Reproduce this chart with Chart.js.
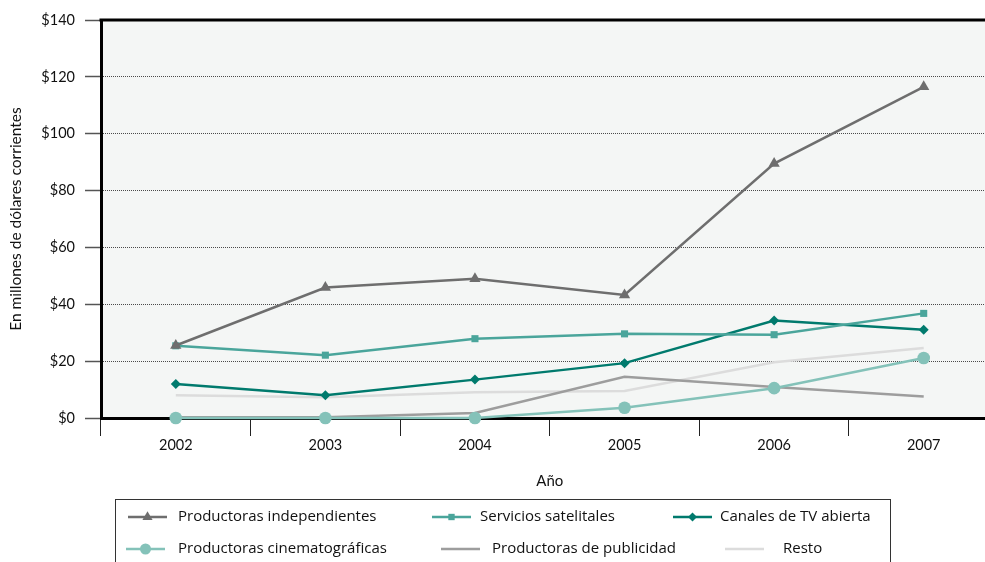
<!DOCTYPE html>
<html lang="es">
<head>
<meta charset="utf-8">
<title>Ingresos por tipo de empresa</title>
<script src="https://cdn.jsdelivr.net/npm/chart.js@4.4.1/dist/chart.umd.min.js"></script>
<style>
  html, body { margin: 0; padding: 0; background: #fff; overflow: hidden; }
  #wrap { width: 985px; height: 562px; overflow: hidden; }
  canvas { display: block; }
</style>
</head>
<body>
<div id="wrap"><canvas id="chart" width="1005" height="562"></canvas></div>
<script>
// Años y series (millones de dólares corrientes)
const years = ['2002', '2003', '2004', '2005', '2006', '2007'];
const independientes = [25.5, 45.9, 49.0, 43.3, 89.5, 116.5];
const satelitales = [25.4, 22.1, 27.9, 29.6, 29.3, 36.8];
const canalesTV = [12.0, 8.0, 13.5, 19.3, 34.3, 31.0];
const cinematograficas = [0, 0, 0, 3.6, 10.5, 21.1];
const publicidad = [0.3, 0.3, 1.8, 14.5, 10.9, 7.6];
const resto = [8.0, 7.3, 9.1, 9.5, 19.6, 24.6];

const yTicks = [0, 20, 40, 60, 80, 100, 120, 140];

const FONT = "'Lato', 'DejaVu Sans', sans-serif";
const LEGEND_FONT = "'Open Sans', 'Noto Sans', sans-serif";

function series(label, data, color, style, radius) {
  return {
    label,
    data,
    borderColor: color,
    backgroundColor: color,
    borderWidth: 2.5,
    tension: 0,
    clip: false,
    pointStyle: style || 'circle',
    pointRadius: radius || 0,
    pointHoverRadius: radius || 0,
    pointBorderWidth: 0,
    pointBackgroundColor: color,
  };
}

const datasets = [
  series('Productoras independientes', independientes, '#6e6e6e', 'triangle', 6.5),
  series('Servicios satelitales', satelitales, '#4aa59b', 'rect', 5),
  series('Canales de TV abierta', canalesTV, '#007a6d', 'rectRot', 5),
  series('Productoras cinematográficas', cinematograficas, '#84c2b9', 'circle', 6.3),
  series('Productoras de publicidad', publicidad, '#9d9d9d'),
  series('Resto', resto, '#dcdcdc'),
];

// Fondo del área de trazado y borde superior
const plotFrame = {
  id: 'plotFrame',
  beforeDatasetsDraw(chart) {
    const { ctx, chartArea: a } = chart;
    ctx.save();
    ctx.strokeStyle = '#000';
    ctx.lineWidth = 3;
    ctx.beginPath();
    ctx.moveTo(a.left - 1.5, a.top);
    ctx.lineTo(a.right, a.top);
    ctx.stroke();
    ctx.restore();
  },
  beforeDraw(chart) {
    const { ctx, chartArea: a } = chart;
    ctx.save();
    ctx.fillStyle = '#f4f6f5';
    ctx.fillRect(a.left, a.top, a.right - a.left, a.bottom - a.top);
    ctx.restore();
  },
};

// Leyenda en recuadro, dos filas de tres elementos
const boxLegend = {
  id: 'boxLegend',
  afterDraw(chart) {
    const { ctx } = chart;
    const slots = [
      [128, 178, 517], [432, 480, 517], [673, 720, 517],
      [126, 178, 549], [441, 492, 549], [725, 783, 549],
    ];
    ctx.save();
    ctx.strokeStyle = '#333';
    ctx.lineWidth = 1;
    ctx.strokeRect(115.5, 499.5, 775, 80);
    ctx.font = '15px ' + LEGEND_FONT;
    ctx.textBaseline = 'middle';
    chart.data.datasets.forEach((ds, i) => {
      const [x0, tx, y] = slots[i];
      ctx.strokeStyle = ds.borderColor;
      ctx.lineWidth = 2.5;
      ctx.beginPath();
      ctx.moveTo(x0, y);
      ctx.lineTo(x0 + 39, y);
      ctx.stroke();
      if (ds.pointRadius) {
        ctx.fillStyle = ds.pointBackgroundColor;
        ctx.strokeStyle = ds.pointBackgroundColor;
        Chart.helpers.drawPoint(ctx, {
          pointStyle: ds.pointStyle,
          radius: ds.pointStyle === 'circle' ? 5.5 : ds.pointRadius * 0.9,
          borderWidth: 0,
          rotation: 0,
        }, x0 + 19.5, y);
      }
      ctx.fillStyle = '#111';
      ctx.fillText(ds.label, tx, y);
    });
    ctx.restore();
  },
};

new Chart(document.getElementById('chart'), {
  type: 'line',
  data: { labels: years, datasets },
  plugins: [plotFrame, boxLegend],
  options: {
    responsive: false,
    devicePixelRatio: 1,
    animation: false,
    layout: { padding: { top: 20, right: 2, left: 0, bottom: 70 } },
    plugins: {
      legend: { display: false },
      tooltip: { enabled: false },
      title: { display: false },
    },
    scales: {
      x: {
        offset: true,
        grid: {
          offset: true,
          drawOnChartArea: false,
          drawTicks: true,
          tickLength: 18,
          tickColor: '#222',
          tickWidth: 1,
        },
        border: { display: true, color: '#000', width: 3 },
        ticks: { color: '#111', font: { family: FONT, size: 14.5 }, padding: 1 },
        title: {
          display: true,
          text: 'Año',
          color: '#111',
          font: { family: FONT, size: 15 },
          padding: { top: 0, bottom: 2 },
        },
        afterFit: (s) => { s.height = 74; },
      },
      y: {
        min: 0,
        max: 140,
        afterBuildTicks: (s) => { s.ticks = yTicks.map((v) => ({ value: v })); },
        grid: {
          color: '#4a4a4a',
          lineWidth: 1,
          drawTicks: true,
          tickLength: 16,
          tickColor: '#555',
          tickWidth: 1.5,
          tickBorderDash: [0, 0],
        },
        border: { display: true, color: '#000', width: 3, dash: [1, 1] },
        ticks: {
          color: '#111',
          font: { family: FONT, size: 14.5 },
          padding: 10,
          callback: (v) => '$' + v,
        },
        title: {
          display: true,
          text: 'En millones de dólares corrientes',
          color: '#111',
          font: { family: FONT, size: 15.5 },
          padding: { top: 7, bottom: 0 },
        },
        afterFit: (s) => { s.width = 101; },
      },
    },
  },
});
</script>
</body>
</html>
